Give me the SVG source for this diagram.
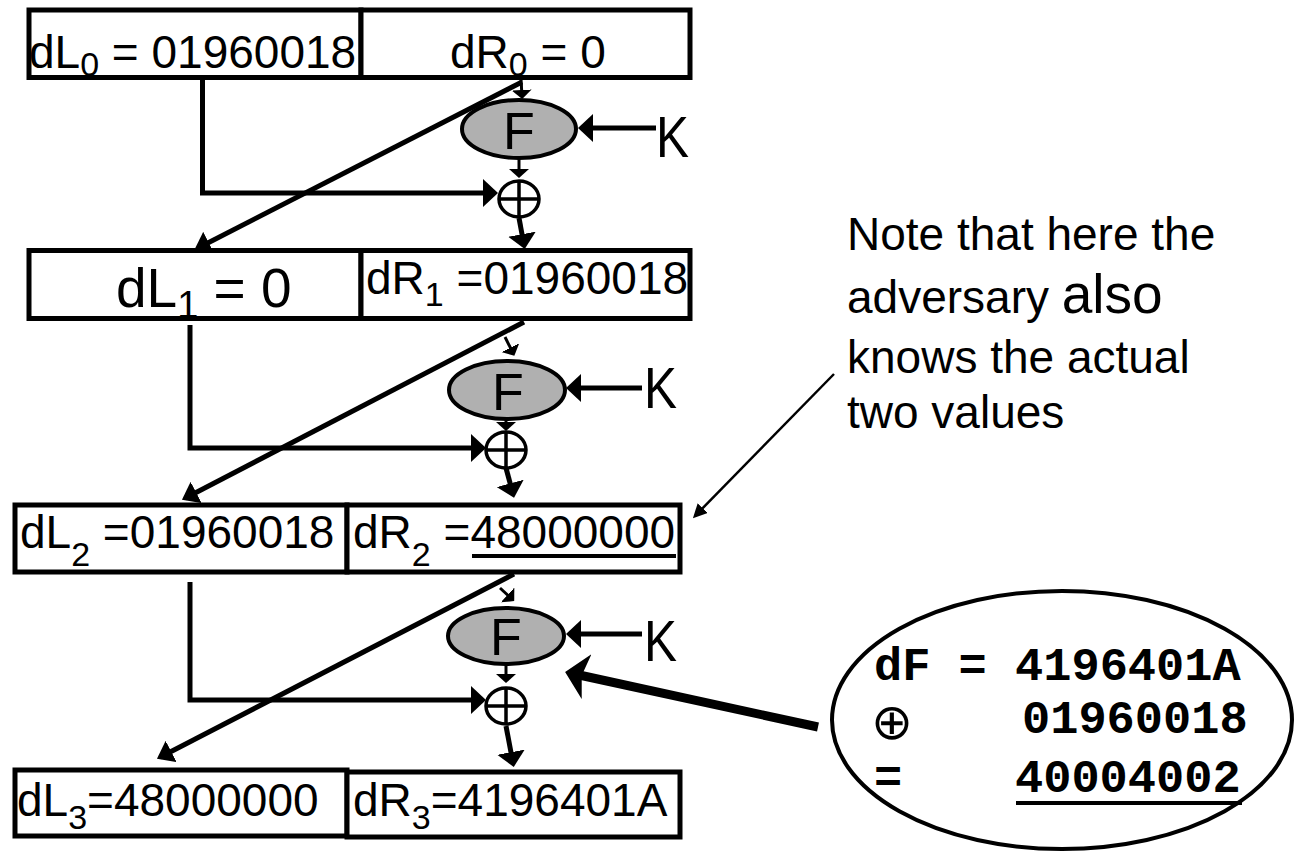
<svg xmlns="http://www.w3.org/2000/svg" width="1295" height="853" viewBox="0 0 1295 853">
  <style>
    .box { fill: #ffffff; stroke: #000; stroke-width: 5; }
    .lbl { font-family: "Liberation Sans", Arial, sans-serif; font-size: 46px; fill: #000; }
    .sub { font-size: 34px; }
    .f { fill: #b0b0b0; stroke: #000; stroke-width: 4; }
    .ftxt { font-family: "Liberation Sans", Arial, sans-serif; font-size: 52px; fill: #000; text-anchor: middle; }
    .ktxt { font-family: "Liberation Sans", Arial, sans-serif; font-size: 57px; fill: #000; }
    .xor { fill: none; stroke: #000; stroke-width: 3.5; }
    .wire { fill: none; stroke: #000; stroke-width: 5; }
    .thin { fill: none; stroke: #000; stroke-width: 3; }
    .note { font-family: "Liberation Sans", Arial, sans-serif; font-size: 46px; fill: #000; }
    .mono { font-family: "Liberation Mono", "Courier New", monospace; font-weight: bold; font-size: 47px; fill: #000; }
  </style>
  <defs>
    <marker id="head" markerUnits="userSpaceOnUse" viewBox="0 0 16 24" refX="12" refY="12" markerWidth="16" markerHeight="24" orient="auto">
      <path d="M0,0 L16,12 L0,24 z" fill="#000"/>
    </marker>
    <marker id="headWide" markerUnits="userSpaceOnUse" viewBox="0 0 15 28" refX="11" refY="14" markerWidth="15" markerHeight="28" orient="auto">
      <path d="M0,0 L15,14 L0,28 z" fill="#000"/>
    </marker>
    <marker id="headSmall" markerUnits="userSpaceOnUse" viewBox="0 0 9 20" refX="6" refY="10" markerWidth="9" markerHeight="20" orient="auto">
      <path d="M0,0 L9,10 L0,20 z" fill="#000"/>
    </marker>
    <marker id="headBig" markerUnits="userSpaceOnUse" viewBox="0 0 22 46" refX="17" refY="23" markerWidth="22" markerHeight="46" orient="auto">
      <path d="M0,0 L22,23 L0,46 L5,23 z" fill="#000"/>
    </marker>
    <marker id="headThin" markerUnits="userSpaceOnUse" viewBox="0 0 14 14" refX="11" refY="7" markerWidth="14" markerHeight="14" orient="auto">
      <path d="M0,0 L14,7 L0,14 z" fill="#000"/>
    </marker>
  </defs>

  <!-- connectors -->
  <g id="connectors">
    <!-- round 1 -->
    <path class="wire" d="M202.5,79 V193 H494" marker-end="url(#headWide)"/>
    <path class="wire" d="M522,82 L198,248" marker-end="url(#head)"/>
    <path class="thin" d="M521,79 L522,96" marker-end="url(#headSmall)"/>
    <path class="wire" d="M656,128 L582,128" marker-end="url(#headWide)"/>
    <path class="thin" d="M519,159 L519,175" marker-end="url(#headSmall)"/>
    <path class="wire" d="M519,218 L524,245" marker-end="url(#headWide)"/>
    <!-- round 2 -->
    <path class="wire" d="M190,325 V448 H482" marker-end="url(#headWide)"/>
    <path class="wire" d="M524,322 L185.5,498" marker-end="url(#head)"/>
    <path class="thin" d="M505,337 L513,353" marker-end="url(#headSmall)"/>
    <path class="wire" d="M642,388 L570,388" marker-end="url(#headWide)"/>
    <path class="thin" d="M506,419 L506,428" marker-end="url(#headSmall)"/>
    <path class="wire" d="M506,468 L513,494" marker-end="url(#headWide)"/>
    <!-- round 3 -->
    <path class="wire" d="M190,582 V700 H482" marker-end="url(#headWide)"/>
    <path class="wire" d="M514,574 L160.5,757" marker-end="url(#head)"/>
    <path class="thin" d="M500,588 L512,599" marker-end="url(#headSmall)"/>
    <path class="wire" d="M642,634 L570,634" marker-end="url(#headWide)"/>
    <path class="thin" d="M506,664 L506,680" marker-end="url(#headSmall)"/>
    <path class="wire" d="M506,726 L513,763" marker-end="url(#headWide)"/>
    <!-- callouts -->
    <path d="M818,727 L570,673" fill="none" stroke="#000" stroke-width="9" marker-end="url(#headBig)"/>
    <path d="M834,374 L695,516" fill="none" stroke="#000" stroke-width="2.5" marker-end="url(#headThin)"/>
  </g>

  <!-- state boxes -->
  <g id="dL0">
    <rect class="box" x="29" y="10" width="332" height="67.5"/>
    <text class="lbl" x="29" y="68">dL<tspan class="sub" dy="8">0</tspan><tspan dy="-8"> = 01960018</tspan></text>
  </g>
  <g id="dR0">
    <rect class="box" x="361" y="10" width="329" height="67.5"/>
    <text class="lbl" x="450" y="68">dR<tspan class="sub" dy="8">0</tspan><tspan dy="-8"> = 0</tspan></text>
  </g>
  <g id="dL1">
    <rect class="box" x="29" y="250.5" width="332" height="68"/>
    <text class="lbl" x="116" y="307" style="font-size:55px">dL<tspan class="sub" dy="11" style="font-size:38px">1</tspan><tspan dy="-11"> = 0</tspan></text>
  </g>
  <g id="dR1">
    <rect class="box" x="361" y="250.5" width="329" height="68"/>
    <text class="lbl" x="366" y="294">dR<tspan class="sub" dy="12">1</tspan><tspan dy="-12"> =01960018</tspan></text>
  </g>
  <g id="dL2">
    <rect class="box" x="15" y="505" width="332" height="67"/>
    <text class="lbl" x="20" y="548">dL<tspan class="sub" dy="18">2</tspan><tspan dy="-18"> =01960018</tspan></text>
  </g>
  <g id="dR2">
    <rect class="box" x="347" y="505" width="333" height="67"/>
    <text class="lbl" x="353" y="548">dR<tspan class="sub" dy="18">2</tspan><tspan dy="-18"> =48000000</tspan></text>
    <line x1="472" y1="556" x2="676" y2="556" stroke="#000" stroke-width="4"/>
  </g>
  <g id="dL3">
    <rect class="box" x="15" y="770" width="332" height="66"/>
    <text class="lbl" x="17" y="816">dL<tspan class="sub" dy="13">3</tspan><tspan dy="-13">=48000000</tspan></text>
  </g>
  <g id="dR3">
    <rect class="box" x="347" y="772" width="333" height="65"/>
    <text class="lbl" x="353" y="816">dR<tspan class="sub" dy="13">3</tspan><tspan dy="-13">=4196401A</tspan></text>
  </g>

  <!-- round functions -->
  <g id="F1">
    <ellipse class="f" cx="519" cy="129" rx="57" ry="29"/>
    <text class="ftxt" x="519" y="149">F</text>
  </g>
  <g id="F2">
    <ellipse class="f" cx="507" cy="390" rx="58" ry="29"/>
    <text class="ftxt" x="508" y="410">F</text>
  </g>
  <g id="F3">
    <ellipse class="f" cx="506" cy="636" rx="58" ry="28"/>
    <text class="ftxt" x="506" y="655">F</text>
  </g>

  <!-- key inputs -->
  <g id="K1"><text class="ktxt" x="656" y="157" textLength="33" lengthAdjust="spacingAndGlyphs">K</text></g>
  <g id="K2"><text class="ktxt" x="644" y="408" textLength="33" lengthAdjust="spacingAndGlyphs">K</text></g>
  <g id="K3"><text class="ktxt" x="644" y="661" textLength="33" lengthAdjust="spacingAndGlyphs">K</text></g>

  <!-- XOR nodes -->
  <g id="xor1">
    <ellipse class="xor" cx="519" cy="199" rx="20" ry="18"/>
    <path class="xor" d="M499,199 H539 M519,181 V217"/>
  </g>
  <g id="xor2">
    <ellipse class="xor" cx="506" cy="450" rx="20" ry="18"/>
    <path class="xor" d="M486,450 H526 M506,432 V468"/>
  </g>
  <g id="xor3">
    <ellipse class="xor" cx="506" cy="706" rx="20" ry="18"/>
    <path class="xor" d="M486,706 H526 M506,688 V724"/>
  </g>

  <!-- remark -->
  <g id="note">
    <text class="note" x="847" y="250">Note that here the</text>
    <text class="note" x="847" y="313">adversary <tspan style="font-size:55px">also</tspan></text>
    <text class="note" x="847" y="373">knows the actual</text>
    <text class="note" x="847" y="428">two values</text>
  </g>

  <!-- output difference computation -->
  <g id="dF">
    <ellipse cx="1062" cy="720" rx="230" ry="129" fill="#ffffff" stroke="#000" stroke-width="4"/>
    <text class="mono" x="874" y="680">dF = 4196401A</text>
    <text x="871" y="739" font-family="DejaVu Sans, sans-serif" font-size="50px" fill="#000">⊕</text>
    <text class="mono" x="1022" y="733">01960018</text>
    <text class="mono" x="874" y="792">=</text>
    <text class="mono" x="1015" y="792">40004002</text>
    <line x1="1016" y1="803" x2="1242" y2="803" stroke="#000" stroke-width="4"/>
  </g>
</svg>
